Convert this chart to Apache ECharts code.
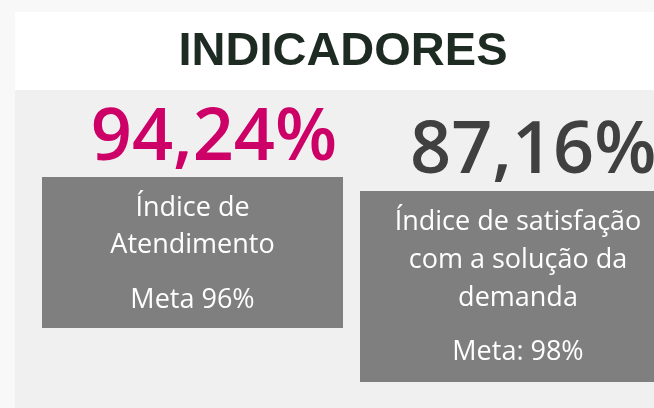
<!DOCTYPE html>
<html>
<head>
<meta charset="utf-8">
<script src="https://cdn.jsdelivr.net/npm/echarts@6/dist/echarts.min.js"></script>
<style>
  html, body { margin: 0; padding: 0; }
  #main { width: 654px; height: 408px; }
</style>
</head>
<body>
<div id="main"></div>
<script>
// dados do painel
const titulo = 'INDICADORES';
const valores = [94.24, 87.16];
const rotulos = [
  ['Índice de', 'Atendimento'],
  ['Índice de satisfação', 'com a solução da', 'demanda']
];
const metas = [96, 98];
const metaTextos = ['Meta ', 'Meta: '];
const coresValor = ['#cc0066', '#404040'];

function fmt(v) {
  return v.toFixed(2).replace('.', ',') + '%';
}

// layout de cada cartão
const cards = [
  { valX: 214, valY: 139, valAlign: 'center', box: [42, 177, 301, 151], cx: 192.5, lines: [208, 245], metaY: 300 },
  { valX: 410, valY: 152, valAlign: 'left', box: [360, 191, 320, 191], cx: 518, lines: [222, 260, 298], metaY: 352 }
];

const graphic = [
  { type: 'rect', shape: { x: 15, y: 12, width: 700, height: 78 }, style: { fill: '#ffffff' } },
  { type: 'rect', shape: { x: 15, y: 90, width: 700, height: 330 }, style: { fill: '#f0f0f0' } },
  {
    type: 'text', x: 343, y: 52,
    style: {
      text: titulo, fill: '#1e2b22', font: 'bold 47px "Liberation Sans", Arial, sans-serif',
      align: 'center', verticalAlign: 'middle'
    }
  }
];

cards.forEach(function (c, i) {
  graphic.push({
    type: 'text', x: c.valX, y: c.valY,
    style: {
      text: fmt(valores[i]), fill: coresValor[i], font: '600 72px "Open Sans", sans-serif',
      align: c.valAlign, verticalAlign: 'middle'
    }
  });
  graphic.push({
    type: 'rect',
    shape: { x: c.box[0], y: c.box[1], width: c.box[2], height: c.box[3] },
    style: { fill: '#7f7f7f' }
  });
  rotulos[i].forEach(function (t, j) {
    graphic.push({
      type: 'text', x: c.cx, y: c.lines[j],
      style: { text: t, fill: '#ffffff', font: '27px "Open Sans", sans-serif', align: 'center', verticalAlign: 'middle' }
    });
  });
  graphic.push({
    type: 'text', x: c.cx, y: c.metaY,
    style: { text: metaTextos[i] + metas[i] + '%', fill: '#ffffff', font: '27px "Open Sans", sans-serif', align: 'center', verticalAlign: 'middle' }
  });
});

const chart = echarts.init(document.getElementById('main'));
chart.setOption({
  backgroundColor: '#f8f8f8',
  animation: false,
  graphic: graphic
});
</script>
</body>
</html>
